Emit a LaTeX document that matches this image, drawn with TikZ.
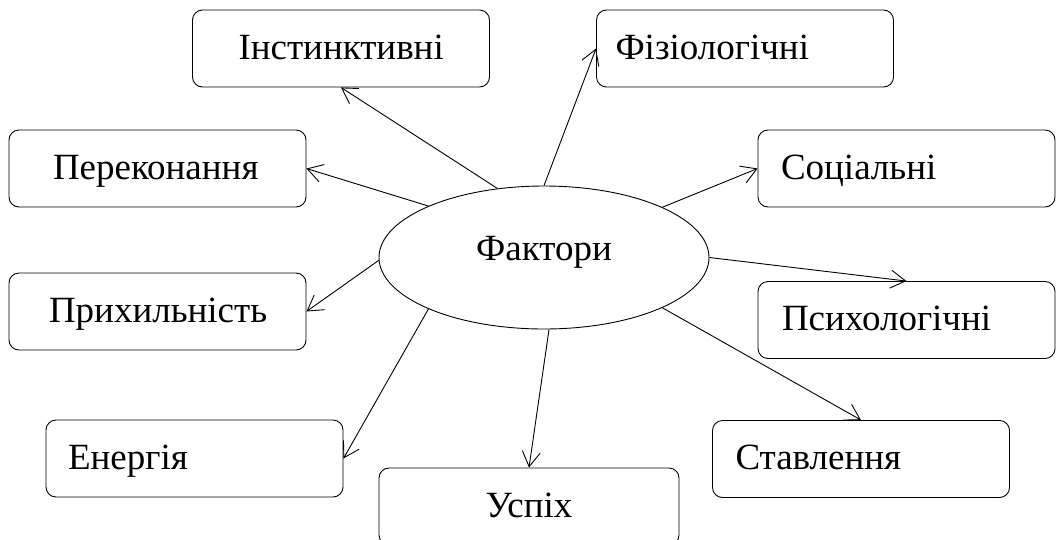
\documentclass[tikz,border=0pt]{standalone}
\usepackage{fontspec}
\setmainfont{Liberation Serif}
\usetikzlibrary{arrows.meta,shapes.geometric}

\begin{document}
\begin{tikzpicture}[x=1pt, y=-1pt,
  every node/.style={font=\fontsize{37}{44}\selectfont},
  factorbox/.style={draw, line width=0.9pt, rounded corners=10pt,
    minimum width=297pt, minimum height=77pt, inner xsep=0pt,
    text width=297pt, align=left, text height=28pt, text depth=7pt,
    execute at begin node={\hspace*{#1}}},
  hub/.style={draw, line width=0.9pt, ellipse, minimum width=330pt,
    minimum height=143pt, inner sep=0pt, text height=28pt, text depth=23pt},
  link/.style={-{Straight Barb[length=15pt, width=18pt]}, line width=0.9pt}]

\clip (0,0) rectangle (1057,539);

% central ellipse
\node[hub] (f) at (544,257.5) {Фактори};

% surrounding boxes
\node[factorbox=46pt] (inst) at (341,48.5)    {Інстинктивні};
\node[factorbox=44pt] (pere) at (157.5,168.5) {Переконання};
\node[factorbox=19pt] (fiz)  at (745,48.5)    {Фізіологічні};
\node[factorbox=23pt] (soc)  at (906.5,168.5) {Соціальні};
\node[factorbox=40pt] (pryk) at (157.5,311.5) {Прихильність};
\node[factorbox=22pt] (ener) at (194.5,458.5) {Енергія};
\node[factorbox=0pt, minimum width=300pt, text width=300pt, align=center]
                      (usp)  at (529,506.5)   {Успіх};
\node[factorbox=24pt] (psy)  at (906.5,320)   {Психологічні};
\node[factorbox=23pt] (stav) at (861,459)     {Ставлення};

% connectors
\draw[link] (f.124)   -- (inst.south);
\draw[link] (f.156.7) -- (pere.east);
\draw[link] (f.90)    -- (fiz.west);
\draw[link] (f.23.6)  -- (soc.west);
\draw[link] (f.0)     -- (psy.north);
\draw[link] (f.-23.6) -- (stav.north);
\draw[link] (f.-86)   -- (usp.north);
\draw[link] (f.204.2) -- (ener.east);
\draw[link] (f.181)   -- (pryk.east);
\end{tikzpicture}
\end{document}
